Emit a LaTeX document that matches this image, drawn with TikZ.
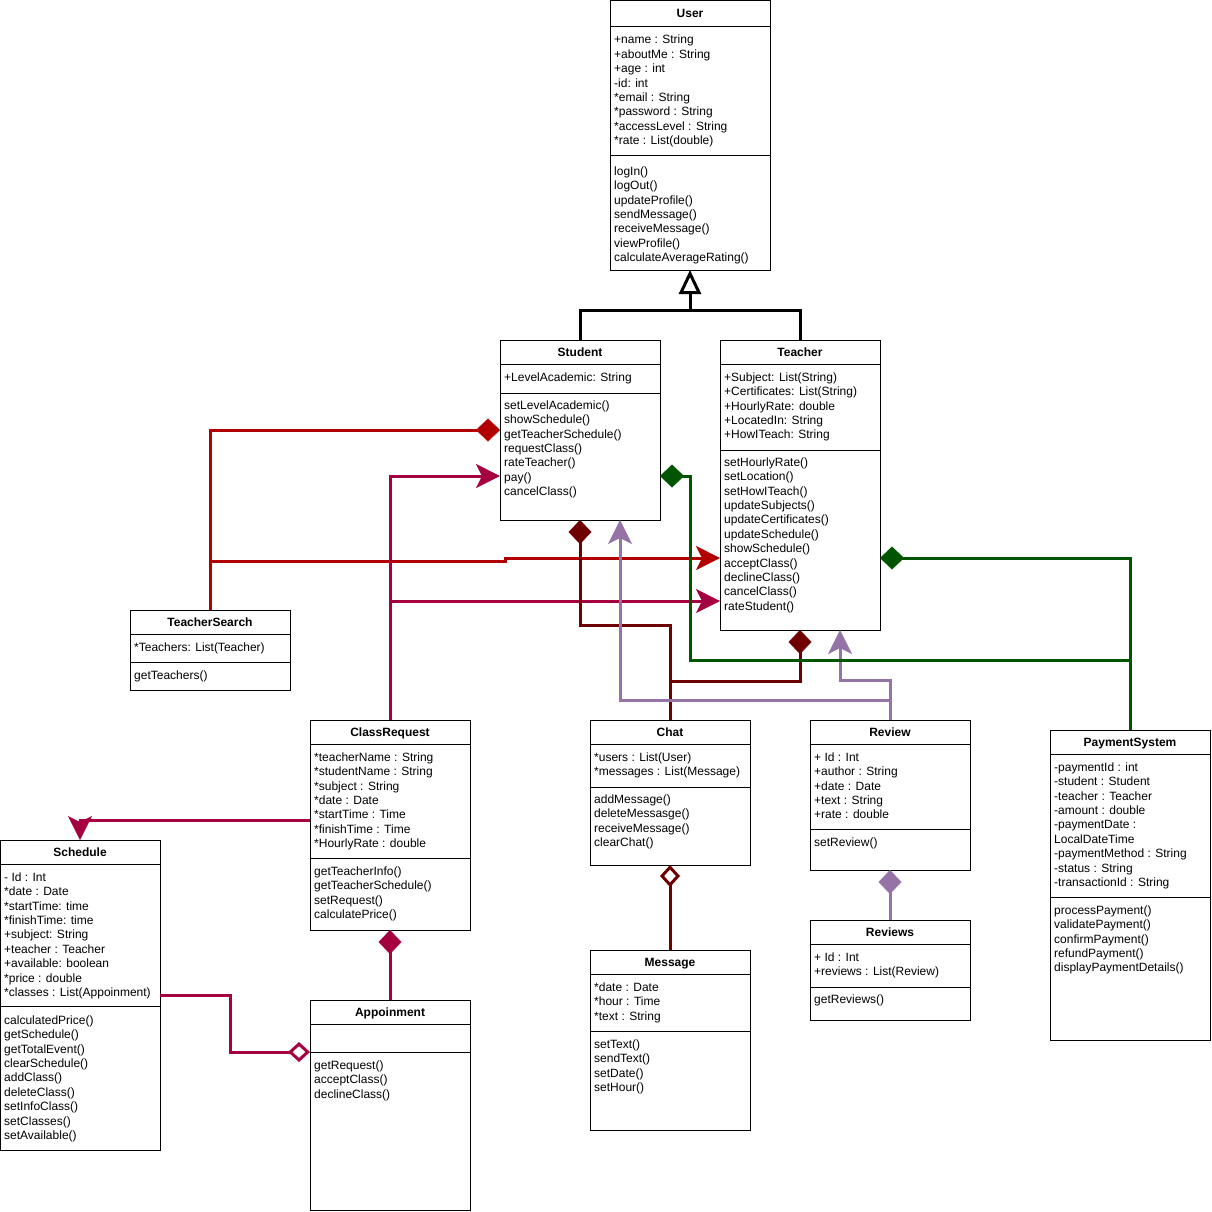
\documentclass[tikz,border=0pt]{standalone}
\usepackage{fontspec}
\setmainfont{Liberation Sans}
\usetikzlibrary{arrows.meta}
\definecolor{cRed}{RGB}{178,0,0}
\definecolor{cCrim}{RGB}{165,0,64}
\definecolor{cDark}{RGB}{111,0,0}
\definecolor{cPurp}{RGB}{150,115,166}
\definecolor{cGreen}{RGB}{0,85,0}
\newcommand\clsl[1]{\begin{tabular}[t]{@{}l@{}}#1\end{tabular}}
\begin{document}
\begin{tikzpicture}[x=1pt,y=-1pt,
  every node/.style={font=\fontsize{12}{14.4}\selectfont},
  box/.style={draw=black, line width=1pt, fill=white, anchor=north west, inner sep=0pt, outer sep=0pt, minimum width=160pt},
  ttl/.style={anchor=base, inner sep=0pt, font=\fontsize{12}{14.4}\selectfont\bfseries},
  txt/.style={anchor=base west, inner sep=0pt},
  sep/.style={line width=1pt},
  conn/.style={line width=3pt},
  fdia/.style={-{Diamond[length=24pt,width=23pt,line width=0.5pt]}},
  odia/.style={-{Diamond[open,fill=white,length=22pt,width=20pt,line width=3pt]}},
  arr/.style={-{Stealth[length=24pt,width=24pt,inset=6pt,line width=0.5pt]}},
  gen/.style={line width=3pt,draw=black}
]
\useasboundingbox (0,0) rectangle (1212,1211);

% ---------- User ----------
\node[box, minimum height=270pt] (user) at (610,0) {};
\node[ttl] (userT) at (690,17.3) {User};
\draw[sep] (610,26) -- (770,26);
\draw[sep] (610,155) -- (770,155);
\node[txt] (userA) at (614,43.8) {\clsl{+name : String\\+aboutMe : String\\+age : int\\-id: int\\{*}email : String\\{*}password : String\\{*}accessLevel : String\\{*}rate : List(double)}};
\node[txt] (userM) at (614,175.3) {\clsl{logIn()\\logOut()\\updateProfile()\\sendMessage()\\receiveMessage()\\viewProfile()\\calculateAverageRating()}};

% ---------- Student ----------
\node[box, minimum height=180pt] (student) at (500,340) {};
\node[ttl] (studentT) at (580,356.3) {Student};
\draw[sep] (500,364) -- (660,364);
\draw[sep] (500,393) -- (660,393);
\node[txt] (studentA) at (504,381.3) {\clsl{+LevelAcademic: String}};
\node[txt] (studentM) at (504,409.3) {\clsl{setLevelAcademic()\\showSchedule()\\getTeacherSchedule()\\requestClass()\\rateTeacher()\\pay()\\cancelClass()}};

% ---------- Teacher ----------
\node[box, minimum height=290pt] (teacher) at (720,340) {};
\node[ttl] (teacherT) at (800,356.3) {Teacher};
\draw[sep] (720,364) -- (880,364);
\draw[sep] (720,450) -- (880,450);
\node[txt] (teacherA) at (724,381.3) {\clsl{+Subject: List(String)\\+Certificates: List(String)\\+HourlyRate: double\\+LocatedIn: String\\+HowITeach: String}};
\node[txt] (teacherM) at (724,466.3) {\clsl{setHourlyRate()\\setLocation()\\setHowITeach()\\updateSubjects()\\updateCertificates()\\updateSchedule()\\showSchedule()\\acceptClass()\\declineClass()\\cancelClass()\\rateStudent()}};

% ---------- TeacherSearch ----------
\node[box, minimum height=80pt] (ts) at (130,610) {};
\node[ttl] (tsT) at (210,626.3) {TeacherSearch};
\draw[sep] (130,634) -- (290,634);
\draw[sep] (130,662) -- (290,662);
\node[txt] (tsA) at (134,651.3) {\clsl{{*}Teachers: List(Teacher)}};
\node[txt] (tsM) at (134,679.3) {\clsl{getTeachers()}};

% ---------- ClassRequest ----------
\node[box, minimum height=210pt] (cr) at (310,720) {};
\node[ttl] (crT) at (390,736.3) {ClassRequest};
\draw[sep] (310,744) -- (470,744);
\draw[sep] (310,858) -- (470,858);
\node[txt] (crA) at (314,761.3) {\clsl{{*}teacherName : String\\{*}studentName : String\\{*}subject : String\\{*}date : Date\\{*}startTime : Time\\{*}finishTime : Time\\{*}HourlyRate : double}};
\node[txt] (crM) at (314,875.3) {\clsl{getTeacherInfo()\\getTeacherSchedule()\\setRequest()\\calculatePrice()}};

% ---------- Chat ----------
\node[box, minimum height=145pt] (chat) at (590,720) {};
\node[ttl] (chatT) at (670,736.3) {Chat};
\draw[sep] (590,744) -- (750,744);
\draw[sep] (590,787) -- (750,787);
\node[txt] (chatA) at (594,761.3) {\clsl{{*}users : List(User)\\{*}messages : List(Message)}};
\node[txt] (chatM) at (594,803.3) {\clsl{addMessage()\\deleteMessasge()\\receiveMessage()\\clearChat()}};

% ---------- Review ----------
\node[box, minimum height=150pt] (review) at (810,720) {};
\node[ttl] (reviewT) at (890,736.3) {Review};
\draw[sep] (810,744) -- (970,744);
\draw[sep] (810,829) -- (970,829);
\node[txt] (reviewA) at (814,761.3) {\clsl{+ Id : Int\\+author : String\\+date : Date\\+text : String\\+rate : double}};
\node[txt] (reviewM) at (814,846.3) {\clsl{setReview()}};

% ---------- PaymentSystem ----------
\node[box, minimum height=310pt] (pay) at (1050,730) {};
\node[ttl] (payT) at (1130,746.3) {PaymentSystem};
\draw[sep] (1050,754) -- (1210,754);
\draw[sep] (1050,897) -- (1210,897);
\node[txt] (payA) at (1054,771.3) {\clsl{-paymentId : int\\-student : Student\\-teacher : Teacher\\-amount : double\\-paymentDate :\\LocalDateTime\\-paymentMethod : String\\-status : String\\-transactionId : String}};
\node[txt] (payM) at (1054,914.3) {\clsl{processPayment()\\validatePayment()\\confirmPayment()\\refundPayment()\\displayPaymentDetails()}};

% ---------- Schedule ----------
\node[box, minimum height=310pt] (sched) at (0,840) {};
\node[ttl] (schedT) at (80,856.3) {Schedule};
\draw[sep] (0,864) -- (160,864);
\draw[sep] (0,1006) -- (160,1006);
\node[txt] (schedA) at (4,881.3) {\clsl{- Id : Int\\{*}date : Date\\{*}startTime: time\\{*}finishTime: time\\+subject: String\\+teacher : Teacher\\+available: boolean\\{*}price : double\\{*}classes : List(Appoinment)}};
\node[txt] (schedM) at (4,1024.3) {\clsl{calculatedPrice()\\getSchedule()\\getTotalEvent()\\clearSchedule()\\addClass()\\deleteClass()\\setInfoClass()\\setClasses()\\setAvailable()}};

% ---------- Appoinment ----------
\node[box, minimum height=210pt] (app) at (310,1000) {};
\node[ttl] (appT) at (390,1016.3) {Appoinment};
\draw[sep] (310,1024) -- (470,1024);
\draw[sep] (310,1052) -- (470,1052);
\node[txt] (appM) at (314,1069.3) {\clsl{getRequest()\\acceptClass()\\declineClass()}};

% ---------- Message ----------
\node[box, minimum height=180pt] (msg) at (590,950) {};
\node[ttl] (msgT) at (670,966.3) {Message};
\draw[sep] (590,974) -- (750,974);
\draw[sep] (590,1031) -- (750,1031);
\node[txt] (msgA) at (594,991.3) {\clsl{{*}date : Date\\{*}hour : Time\\{*}text : String}};
\node[txt] (msgM) at (594,1048.3) {\clsl{setText()\\sendText()\\setDate()\\setHour()}};

% ---------- Reviews ----------
\node[box, minimum height=100pt] (reviews) at (810,920) {};
\node[ttl] (reviewsT) at (890,936.3) {Reviews};
\draw[sep] (810,944) -- (970,944);
\draw[sep] (810,987) -- (970,987);
\node[txt] (reviewsA) at (814,961.3) {\clsl{+ Id : Int\\+reviews : List(Review)}};
\node[txt] (reviewsM) at (814,1003.3) {\clsl{getReviews()}};

% ---------- Connectors ----------
% generalization
\coordinate (genJ) at (690,310);
\draw[gen] (student.north) |- (genJ) -| (teacher.north);
\draw[gen,-{Triangle[open,fill=white,length=24pt,width=22pt,line width=3pt]}] (genJ) -- (user.south);

% TeacherSearch (red)
\draw[conn,draw=cRed,fdia] (ts.north) |- (student.west |- 0,430);
\draw[conn,draw=cRed,arr] (ts.north |- 0,561) -- (505,561) -- (505,558) -- (teacher.west |- 0,558);

% ClassRequest (crimson)
\draw[conn,draw=cCrim,arr] (cr.north) |- (student.west |- 0,476);
\draw[conn,draw=cCrim,arr] (cr.north |- 0,601) -- (teacher.west |- 0,601);
\draw[conn,draw=cCrim,arr] (cr.west |- 0,820) -| (sched.north);
\draw[conn,draw=cCrim,fdia] (app.north) -- (cr.south);
\draw[conn,draw=cCrim,odia] (sched.east |- 0,995) -- (230,995) -- (230,1052) -- (app.west |- 0,1052);

% Chat (dark red)
\draw[conn,draw=cDark,fdia] (chat.north) |- (student.south |- 0,625) -- (student.south);
\draw[conn,draw=cDark,fdia] (chat.north |- 0,681) -| (teacher.south);
\draw[conn,draw=cDark,odia] (msg.north) -- (chat.south);

% Review (purple)
\draw[conn,draw=cPurp,arr] (review.north) |- (840,680) -- (teacher.south -| 840,0);
\draw[conn,draw=cPurp,arr] (review.north |- 0,700) -| (student.south -| 620,0);
\draw[conn,draw=cPurp,fdia] (reviews.north) -- (review.south);

% PaymentSystem (green)
\draw[conn,draw=cGreen,fdia] (pay.north) |- (teacher.east |- 0,558);
\draw[conn,draw=cGreen,fdia] (pay.north |- 0,660) -- (690,660) -- (690,476) -- (student.east |- 0,476);
\end{tikzpicture}
\end{document}
